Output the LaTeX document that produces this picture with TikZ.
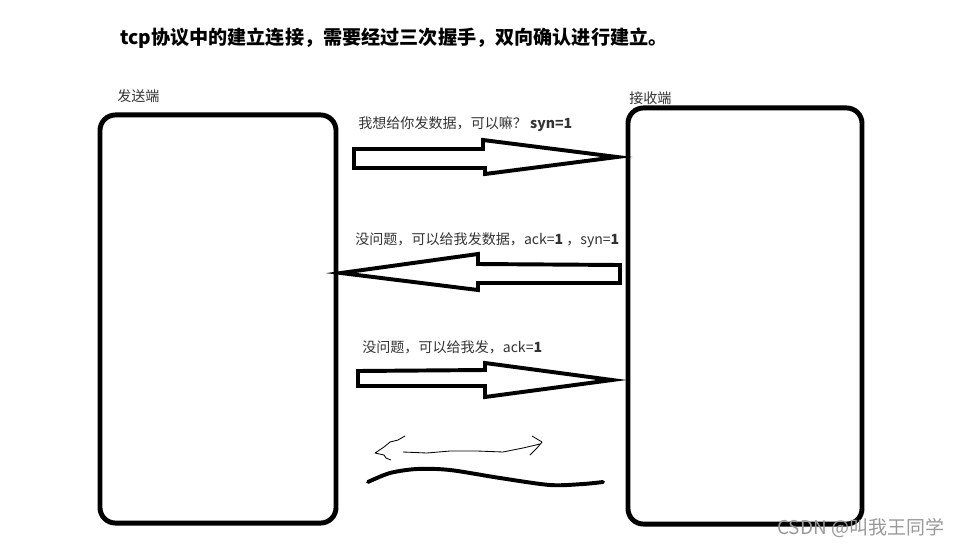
\documentclass[tikz,border=0pt]{standalone}
\usepackage{fontspec}
\setmainfont{Noto Sans CJK SC}
\usetikzlibrary{
    positioning,
    calc
}
\tikzset{
    endbox/.style={
        draw,
        rectangle,
        rounded corners=11pt,
        line width=3.5pt,
        inner sep=0pt
    },
    lab/.style={
        font=\fontsize{10}{12}\selectfont,
        text=black!80,
        inner sep=0pt,
        anchor=west
    },
    bigarr/.style={
        draw,
        line width=2.8pt,
        line join=miter,
        fill=white
    }
}

\begin{document}
\begin{tikzpicture}[
    x=0.025cm,
    y=-0.025cm,
    headline/.style={
        font=\fontsize{13.6}{15}\selectfont\bfseries,
        inner sep=0pt,
        anchor=west
    },
    wmtext/.style={
        font=\fontsize{13.5}{15}\selectfont,
        text=black!40,
        inner sep=0pt,
        anchor=west
    },
    scribble/.style={
        line width=0.6pt,
        line join=round
    },
    wave/.style={
        line width=2.8pt,
        line cap=round
    }
]
\useasboundingbox (0,0) rectangle (962,548);

% title
\node[headline] (title) at (120,38) {tcp协议中的建立连接，需要经过三次握手，双向确认进行建立。};

% the two ends
\node[endbox, minimum width=5.9cm, minimum height=10.2cm] (sender) at (218,319) {};
\node[endbox, minimum width=5.85cm, minimum height=10.4cm] (receiver) at (745,316) {};
\node[lab] (sendlab) at (117,96) {发送端};
\node[lab] (recvlab) at (629,98) {接收端};

% three handshakes
\node[lab] (msg1) at (358,124) {我想给你发数据，可以嘛？ \textbf{syn=1}};
\draw[bigarr] (354,149) -- (483,149) -- (483,140) -- (617,157) -- (485,174)
    -- (485,168) -- (354,168) -- cycle;

\node[lab] (msg2) at (355,240) {没问题，可以给我发数据，ack=\textbf{1} ，syn=\textbf{1}};
\draw[bigarr] (341,273) -- (478,254) -- (478,264) -- (620,265) -- (620,283)
    -- (478,283) -- (478,290) -- cycle;

\node[lab] (msg3) at (362,347) {没问题，可以给我发，ack=\textbf{1}};
\draw[bigarr] (358,371) -- (485,370) -- (485,363) -- (612,380) -- (485,397)
    -- (485,386) -- (358,386) -- cycle;

% two-way scribble
\draw[scribble] (405,436) -- (398,440) -- (390,442) -- (384,447) -- (375,453)
    -- (384,455) -- (386,458) -- (391,460);
\draw[scribble] (403,452) -- (427,453) -- (450,451) -- (477,451) -- (503,452)
    -- (523,448) -- (540,444);
\draw[scribble] (532,436) -- (542,442) -- (537,448) -- (530,455);
\draw[wave] plot[smooth] coordinates {(368,482) (390,473) (417,469) (450,470)
    (500,478) (550,485) (583,484) (603,482)};

% watermark
\node[wmtext] (wm) at (777,528) {CSDN @叫我王同学};

\end{tikzpicture}
\end{document}
